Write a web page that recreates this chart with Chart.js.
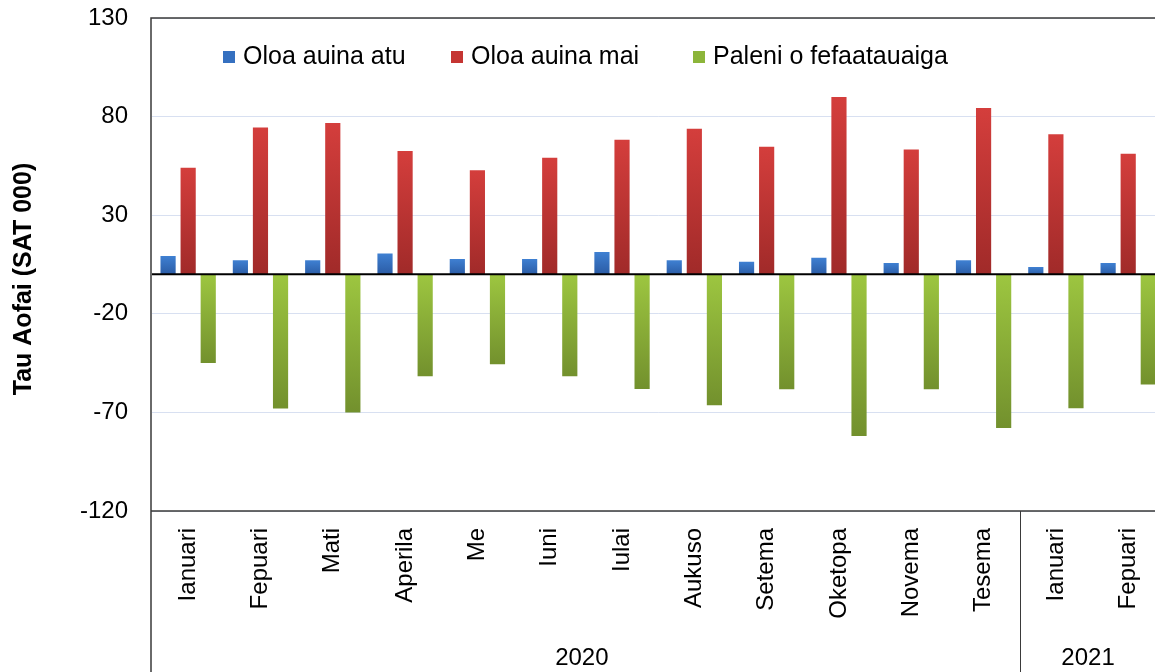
<!DOCTYPE html>
<html>
<head>
<meta charset="utf-8">
<script src="https://cdn.jsdelivr.net/npm/chart.js@4.4.1/dist/chart.umd.min.js"></script>
<style>
  html, body { margin: 0; padding: 0; background: #fff; overflow: hidden; }
  canvas { display: block; }
</style>
</head>
<body>
<canvas id="chart" width="1174" height="672"></canvas>
<script>
// data (SAT 000)
const months = ['Ianuari','Fepuari','Mati','Aperila','Me','Iuni','Iulai','Aukuso','Setema','Oketopa','Novema','Tesema','Ianuari','Fepuari']
const years = ['2020','2021']
const yearSpans = [12, 2]
const exportVals = [9.3, 7.1, 7.1, 10.6, 7.8, 7.8, 11.3, 7.1, 6.4, 8.4, 5.7, 7.1, 3.7, 5.7]
const importVals = [54, 74.5, 76.7, 62.5, 52.8, 59.1, 68.2, 73.8, 64.7, 90, 63.3, 84.4, 71.1, 61.1]
const balanceVals = [-44.9, -68, -70, -51.7, -45.6, -51.7, -58.1, -66.4, -58.3, -82, -58.3, -77.9, -67.9, -55.9]
const seriesNames = ['Oloa auina atu', 'Oloa auina mai', 'Paleni o fefaatauaiga']
const yTitle = 'Tau Aofai (SAT 000)'

const FONT = '"Liberation Sans", Arial, sans-serif'

// per bar vertical gradient, from the bar end to the zero line
function grad(top, bottom){
  return (c) => {
    const ch = c.chart
    if (!ch.chartArea || !c.parsed) return bottom
    const ys = ch.scales.y
    const p = ys.getPixelForValue(c.parsed.y), b = ys.getPixelForValue(0)
    const g = ch.ctx.createLinearGradient(0, Math.min(p, b), 0, Math.max(p, b) + 1)
    g.addColorStop(0, top)
    g.addColorStop(1, bottom)
    return g
  }
}

const frame = {
  id: 'frame',
  afterDraw(chart){
    const {ctx, chartArea: a, scales: {x, y}} = chart
    ctx.save()
    // plot box and the label box below it
    ctx.strokeStyle = '#3a3a3a'
    ctx.lineWidth = 1.5
    ctx.beginPath()
    ctx.moveTo(a.left - 1, chart.height + 2)
    ctx.lineTo(a.left - 1, a.top)
    ctx.lineTo(chart.width + 2, a.top)
    ctx.moveTo(a.left - 1, a.bottom)
    ctx.lineTo(chart.width + 2, a.bottom)
    ctx.stroke()
    // year groups
    ctx.lineWidth = 1
    ctx.font = '24px ' + FONT
    ctx.fillStyle = '#000'
    ctx.textAlign = 'center'
    ctx.textBaseline = 'middle'
    let start = 0
    years.forEach((yr, i) => {
      const end = start + yearSpans[i] - 1
      const l = start === 0 ? a.left : (x.getPixelForValue(start - 1) + x.getPixelForValue(start)) / 2
      const r = end === months.length - 1 ? a.right : (x.getPixelForValue(end) + x.getPixelForValue(end + 1)) / 2
      if (start > 0) {
        ctx.beginPath()
        ctx.moveTo(Math.round(l) + 0.5, a.bottom)
        ctx.lineTo(Math.round(l) + 0.5, chart.height)
        ctx.stroke()
      }
      ctx.fillText(yr, (l + r) / 2 - 4, 658)
      start = end + 1
    })
    // zero line
    const y0 = y.getPixelForValue(0)
    ctx.strokeStyle = '#000'
    ctx.lineWidth = 2
    ctx.beginPath()
    ctx.moveTo(a.left, y0)
    ctx.lineTo(a.right, y0)
    ctx.stroke()
    // legend inside the plot
    const sq = [223, 451, 693]
    ctx.font = '25px ' + FONT
    ctx.textAlign = 'left'
    chart.data.datasets.forEach((ds, i) => {
      ctx.fillStyle = ds.legendColor
      ctx.fillRect(sq[i], 51, 12, 12)
      ctx.fillStyle = '#000'
      ctx.fillText(ds.label, sq[i] + 20, 57)
    })
    // y axis title, sits a bit lower than the plot middle
    ctx.translate(24, 279)
    ctx.rotate(-Math.PI / 2)
    ctx.font = 'bold 25px ' + FONT
    ctx.textAlign = 'center'
    ctx.fillText(yTitle, 0, 0)
    ctx.restore()
  }
}

new Chart(document.getElementById('chart'), {
  type: 'bar',
  data: {
    labels: months,
    datasets: [
      { label: seriesNames[0], data: exportVals, backgroundColor: grad('#3f80d2', '#2a5aa3'), legendColor: '#3570c0' },
      { label: seriesNames[1], data: importVals, backgroundColor: grad('#d43e3c', '#a02a29'), legendColor: '#c53532' },
      { label: seriesNames[2], data: balanceVals, backgroundColor: grad('#9dc640', '#72902d'), legendColor: '#8cb53a' },
    ]
  },
  options: {
    responsive: false,
    animation: false,
    layout: { padding: 0 },
    datasets: { bar: { categoryPercentage: 0.833, barPercentage: 0.756 } },
    plugins: { legend: { display: false }, tooltip: { enabled: false } },
    scales: {
      x: {
        grid: { display: false, drawTicks: false },
        border: { display: false },
        ticks: {
          autoSkip: false, maxRotation: 90, minRotation: 90, padding: 17,
          color: '#000', font: { family: FONT, size: 24 }
        },
        afterFit(scale){
          scale.height = 161
          scale.paddingTop = 0
          scale.paddingBottom = 0
        }
      },
      y: {
        min: -120, max: 130,
        grid: { color: '#d8e0f1', lineWidth: 1, drawTicks: false },
        border: { display: false },
        ticks: { stepSize: 50, padding: 24, color: '#000', font: { family: FONT, size: 24 } },
        afterFit(scale){
          scale.width = 152
          scale.paddingTop = 18
          scale.paddingBottom = 0
        }
      }
    }
  },
  plugins: [frame]
})
</script>
</body>
</html>
